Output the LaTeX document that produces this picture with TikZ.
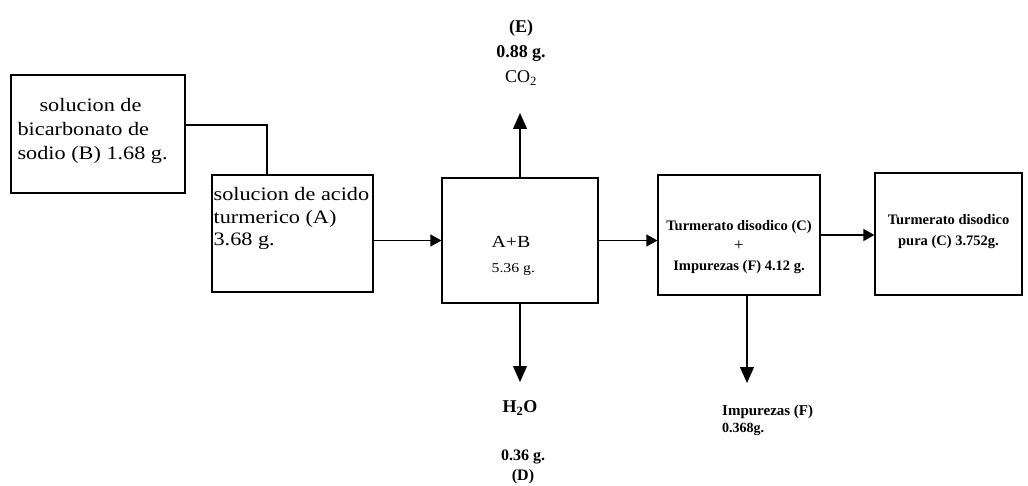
\documentclass[tikz,border=0pt]{standalone}
\usepackage{fontspec}
\setmainfont{Liberation Serif}
\newfontfamily\escaneo[FakeStretch=1.17]{Liberation Serif}
\usetikzlibrary{arrows.meta,positioning}

\begin{document}
\begin{tikzpicture}[
  x=1pt, y=-1pt,
  caja/.style={draw, line width=1.2pt, inner sep=0pt},
  texto/.style={align=left, inner sep=0pt, font=\escaneo\fontsize{19}{24}\selectfont},
  negrita/.style={align=center, inner sep=0pt, font=\bfseries\fontsize{14.5}{21}\selectfont},
  salida/.style={align=center, inner sep=0pt, font=\bfseries\fontsize{18}{25}\selectfont},
  linea/.style={line width=1.2pt},
  flecha/.style={line width=1.2pt, -{Triangle[length=11pt, width=12pt]}},
  flechav/.style={line width=1.2pt, -{Triangle[length=16pt, width=14pt]}}
]
\useasboundingbox (0,0) rectangle (1028,486);

% cajas del proceso
\node[caja, minimum width=174pt, minimum height=118pt] (B) at (98,134) {};
\node[caja, minimum width=161pt, minimum height=117pt] (A) at (292.5,233.5) {};
\node[caja, minimum width=156pt, minimum height=125pt] (AB) at (520,240.5) {};
\node[caja, minimum width=162pt, minimum height=120pt] (C) at (739,235) {};
\node[caja, minimum width=147pt, minimum height=122pt] (D) at (948.5,234) {};

% textos de las cajas
\node[texto, anchor=west] (tB) at ([xshift=7pt, yshift=3pt]B.west)
  {\hspace*{22pt}solucion de\\bicarbonato de\\sodio (B) 1.68 g.};
\node[texto, anchor=west, font=\escaneo\fontsize{19}{22.5}\selectfont] (tA)
  at ([xshift=2pt, yshift=15pt]A.west) {solucion de acido\\turmerico (A)\\3.68 g.};
\node[texto, anchor=west, font=\escaneo\fontsize{17}{25}\selectfont] (tAB)
  at ([xshift=50pt, yshift=-15pt]AB.west) {A+B\\{\fontsize{13.5}{25}\selectfont 5.36 g.}};
\node[negrita, font=\bfseries\fontsize{14.5}{20}\selectfont] (tC) at ([yshift=-12pt]C.center)
  {Turmerato disodico (C)\\{\mdseries\fontsize{17}{20}\selectfont +}\\Impurezas (F) 4.12 g.};
\node[negrita] (tD) at ([yshift=2pt]D.center) {Turmerato disodico\\pura (C) 3.752g.};

% corrientes de salida
\node[salida] (E) at (521,53) {(E)\\0.88 g.\\{\mdseries CO\textsubscript{2}}};
\node[salida] (h2o) at (520,408) {H\textsubscript{2}O};
\node[salida, font=\bfseries\fontsize{16}{20}\selectfont] (masaD) at (523,467)
  {0.36 g.\\(D)};
\node[salida, align=left, anchor=north west, font=\bfseries\fontsize{15}{17}\selectfont]
  (F) at (722,405) {Impurezas (F)\\{\fontsize{14}{17}\selectfont 0.368g.}};

\coordinate (codo) at (267,125);
\coordinate (puntaE) at (520,113);
\coordinate (puntaD) at (520,382);
\coordinate (puntaF) at (747,383);

% conexiones
\draw[linea] (codo -| B.east) -- (codo) -- (codo |- A.north);
\draw[flecha] (A.east |- AB.west) -- (AB.west);
\draw[flecha] (AB.east) -- (AB.east -| C.west);
\draw[flecha] (C.east) -- (C.east -| D.west);
\draw[flechav] (AB.north) -- (puntaE);
\draw[flechav] (AB.south) -- (puntaD);
\draw[flechav] (C.south -| puntaF) -- (puntaF);

\end{tikzpicture}
\end{document}
